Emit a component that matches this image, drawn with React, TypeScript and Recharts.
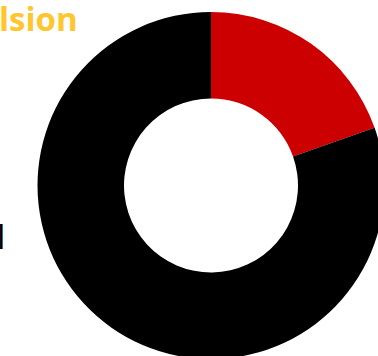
import { PieChart, Pie, Cell } from "recharts";

const sliceNames = ["Highlighted", "Rest"];
const sliceValues = [19.6, 80.4];
const sliceColors = ["#CC0000", "#000000"];

const titleText = "lsion";
const sideLabel = "l";

const data = sliceNames.map((name, i) => ({ name, value: sliceValues[i] }));

export default function App() {
  return (
    <div
      style={{
        position: "fixed",
        left: 0,
        top: 0,
        width: 378,
        height: 356,
        overflow: "hidden",
        background: "#ffffff",
      }}
    >
      <PieChart width={378} height={356} margin={{ top: 0, right: 0, bottom: 0, left: 0 }}>
        <Pie
          data={data}
          dataKey="value"
          nameKey="name"
          cx={211}
          cy={185.5}
          innerRadius={87}
          outerRadius={173.5}
          startAngle={90}
          endAngle={-270}
          stroke="none"
          isAnimationActive={false}
        >
          {data.map((d, i) => (
            <Cell key={d.name} fill={sliceColors[i]} />
          ))}
        </Pie>
      </PieChart>
      <div
        style={{
          position: "absolute",
          left: -1,
          top: 2,
          fontFamily: "'Open Sans', sans-serif",
          fontWeight: 700,
          fontSize: 33,
          lineHeight: 1,
          color: "#FFC62E",
          whiteSpace: "nowrap",
        }}
      >
        {titleText}
      </div>
      <div
        style={{
          position: "absolute",
          left: -3,
          top: 220,
          fontFamily: "'Open Sans', sans-serif",
          fontSize: 33,
          lineHeight: 1,
          color: "#000000",
          whiteSpace: "nowrap",
        }}
      >
        {sideLabel}
      </div>
    </div>
  );
}
